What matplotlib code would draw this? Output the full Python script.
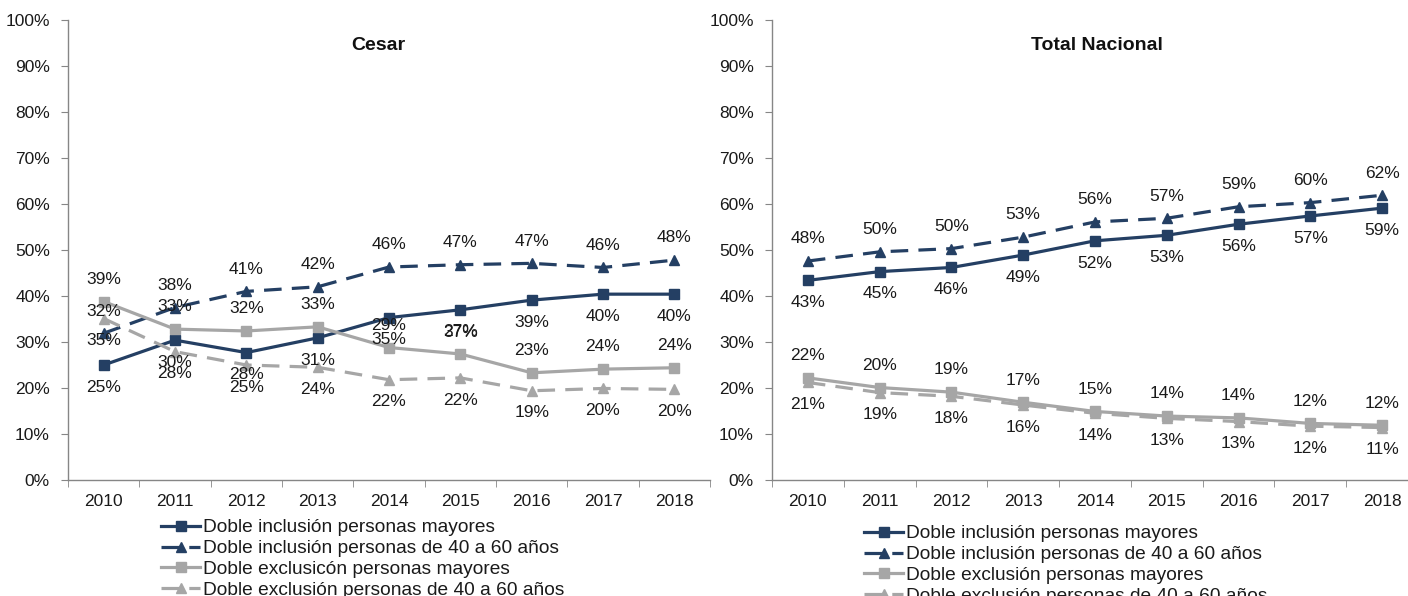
import matplotlib
matplotlib.use("Agg")
import matplotlib.pyplot as plt

plt.rcParams['font.family'] = ['Liberation Sans', 'DejaVu Sans']

years = ["2010", "2011", "2012", "2013", "2014", "2015", "2016", "2017", "2018"]

series_names = [
    "Doble inclusión personas mayores",
    "Doble inclusión personas de 40 a 60 años",
    "Doble exclusicón personas mayores",
    "Doble exclusión personas de 40 a 60 años",
]
series_names_nac = [
    "Doble inclusión personas mayores",
    "Doble inclusión personas de 40 a 60 años",
    "Doble exclusión personas mayores",
    "Doble exclusión personas de 40 a 60 años",
]

# Cesar (fractions)
cesar_inc_may = [0.25, 0.304, 0.277, 0.309, 0.353, 0.37, 0.391, 0.404, 0.404]
cesar_inc_40 = [0.319, 0.375, 0.41, 0.42, 0.463, 0.468, 0.471, 0.462, 0.478]
cesar_exc_may = [0.388, 0.328, 0.324, 0.333, 0.288, 0.274, 0.233, 0.241, 0.244]
cesar_exc_40 = [0.351, 0.279, 0.25, 0.245, 0.218, 0.222, 0.194, 0.199, 0.197]

# Total Nacional (fractions)
nac_inc_may = [0.434, 0.453, 0.462, 0.489, 0.52, 0.532, 0.556, 0.574, 0.591]
nac_inc_40 = [0.476, 0.496, 0.503, 0.528, 0.561, 0.569, 0.594, 0.603, 0.619]
nac_exc_may = [0.222, 0.201, 0.191, 0.169, 0.149, 0.139, 0.135, 0.123, 0.119]
nac_exc_40 = [0.212, 0.19, 0.182, 0.163, 0.145, 0.134, 0.127, 0.117, 0.114]

DARK = '#243F63'
GRAY = '#A6A6A6'
LW = 2.3

styles = [
    dict(color=DARK, ls='-', marker='s', off=-16),
    dict(color=DARK, ls='--', marker='^', off=16),
    dict(color=GRAY, ls='-', marker='s', off=16),
    dict(color=GRAY, ls='--', marker='^', off=-16),
]

fig = plt.figure(figsize=(14.08, 5.96), dpi=100)
W, H = 1408, 596
ax1 = fig.add_axes([68 / W, 1 - 480 / H, 642 / W, 460 / H])
ax2 = fig.add_axes([772 / W, 1 - 480 / H, 646 / W, 460 / H])


def draw(ax, data, names, title, title_x):
    x = list(range(len(years)))
    handles = []
    for vals, st, nm in zip(data, styles, names):
        ln, = ax.plot(x, vals, color=st['color'], lw=LW, ls=st['ls'],
                      marker=st['marker'], markersize=7.5, label=nm,
                      dash_capstyle='butt')
        if st['ls'] == '--':
            ln.set_dashes((5.5, 3.2))
        handles.append(ln)
        for xi, v in zip(x, vals):
            ax.annotate(f"{round(v * 100):.0f}%", (xi, v), xytext=(0, st['off']),
                        textcoords='offset points', ha='center', va='center',
                        fontsize=12.5, color='#1a1a1a')
    ax.set_xlim(-0.5, len(years) - 0.5)
    ax.set_ylim(0, 1)
    ax.set_yticks([i / 10 for i in range(11)])
    ax.set_yticklabels([f"{i * 10}%" for i in range(11)], fontsize=12.5, color='#1a1a1a')
    ax.set_xticks(x)
    ax.set_xticklabels(years, fontsize=12.5, color='#1a1a1a')
    ax.set_xticks([i - 0.5 for i in range(len(years) + 1)], minor=True)
    ax.tick_params(axis='x', which='major', length=0, pad=10)
    ax.tick_params(axis='x', which='minor', length=5, color='#868686', direction='out')
    ax.tick_params(axis='y', length=5, color='#868686', pad=8)
    for s in ['top', 'right']:
        ax.spines[s].set_visible(False)
    for s in ['left', 'bottom']:
        ax.spines[s].set_color('#868686')
        ax.spines[s].set_linewidth(1.0)
    ax.text(title_x, 0.944, title, transform=ax.transAxes, ha='center', va='center',
            fontsize=14, fontweight='bold', color='#111111')
    return handles


h1 = draw(ax1, [cesar_inc_may, cesar_inc_40, cesar_exc_may, cesar_exc_40], series_names, "Cesar", 0.483)
h2 = draw(ax2, [nac_inc_may, nac_inc_40, nac_exc_may, nac_exc_40], series_names_nac, "Total Nacional", 0.503)

legkw = dict(frameon=False, fontsize=13.8, handlelength=2.05, handletextpad=0.15,
             labelspacing=0.18, borderpad=0, borderaxespad=0, loc='upper left')
leg1 = fig.legend(handles=h1, labels=series_names, bbox_to_anchor=(161 / W, 1 - 519 / H), **legkw)
leg2 = fig.legend(handles=h2, labels=series_names_nac, bbox_to_anchor=(864 / W, 1 - 525 / H), **legkw)
for lg in (leg1, leg2):
    for t in lg.get_texts():
        t.set_color('#1a1a1a')

fig.savefig("out.png", dpi=100)
